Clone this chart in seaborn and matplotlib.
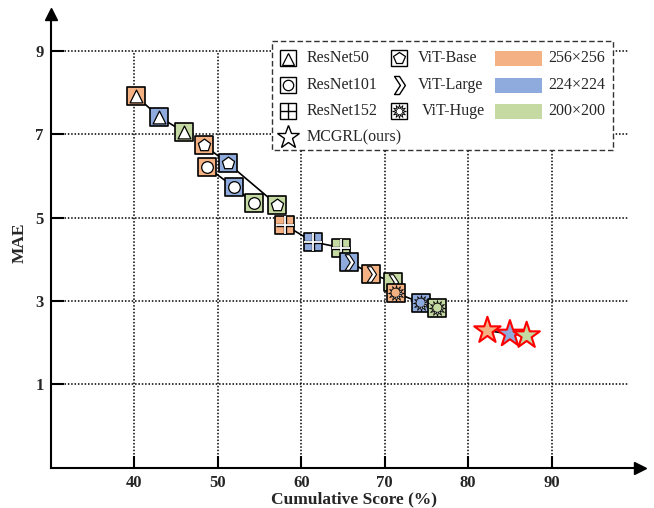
import matplotlib
matplotlib.use("Agg")
import matplotlib.pyplot as plt
import seaborn as sns
import pandas as pd
from matplotlib.path import Path
from matplotlib.patches import Rectangle

# ---------------- data ----------------
resolutions = ['256×256', '224×224', '200×200']
res_colors = ['#F4B183', '#8FAADC', '#C5D9A2']

resnet50_x = [40.2, 43.0, 46.0]
resnet50_y = [7.92, 7.42, 7.05]
resnet101_x = [48.7, 51.9, 54.3]
resnet101_y = [6.22, 5.74, 5.35]
resnet152_x = [58.0, 61.4, 64.8]
resnet152_y = [4.83, 4.42, 4.28]
vitbase_x = [48.3, 51.2, 57.1]
vitbase_y = [6.75, 6.31, 5.31]
vitlarge_x = [68.4, 65.7, 71.0]
vitlarge_y = [3.65, 3.94, 3.46]
vithuge_x = [71.3, 74.3, 76.3]
vithuge_y = [3.20, 2.96, 2.84]
mcgrl_x = [82.3, 85.0, 87.0]
mcgrl_y = [2.29, 2.21, 2.17]

x_ticks = [40, 50, 60, 70, 80, 90]
y_ticks = [1, 3, 5, 7, 9]

families = ['ResNet50', 'ResNet101', 'ResNet152', 'ViT-Base', 'ViT-Large', 'ViT-Huge', 'MCGRL(ours)']
fam_x = [resnet50_x, resnet101_x, resnet152_x, vitbase_x, vitlarge_x, vithuge_x, mcgrl_x]
fam_y = [resnet50_y, resnet101_y, resnet152_y, vitbase_y, vitlarge_y, vithuge_y, mcgrl_y]

rows = []
for f, xs, ys in zip(families, fam_x, fam_y):
    for r, xv, yv in zip(resolutions, xs, ys):
        rows.append(dict(family=f, res=r, score=xv, mae=yv))
df = pd.DataFrame(rows)
palette = dict(zip(resolutions, res_colors))

# ---------------- style ----------------
sns.set_style('white')
plt.rcParams['font.family'] = ['Liberation Serif', 'DejaVu Serif']

W, H = 654, 508
fig = plt.figure(figsize=(W / 100, H / 100), dpi=100)
L, R, B, T = 50.8, 640.0, 467.7, 14.0
ax = fig.add_axes([L / W, 1 - B / H, (R - L) / W, (B - T) / H])

ax.set_xlim(30, 100.58)
ax.set_ylim(-1, 9.89)

# grid (dotted, bounded)
dot = (0, (1, 1.2))
ax.vlines(x_ticks, -1, 9, colors='black', linestyles=[dot], linewidth=1.1, zorder=1)
ax.hlines(y_ticks, 30, 99.1, colors='black', linestyles=[dot], linewidth=1.1, zorder=1)

# chevron marker
chev = Path([(-0.55, 1.0), (0.0, 1.0), (0.65, 0.0), (0.0, -1.0), (-0.55, -1.0), (0.1, 0.0), (-0.55, 1.0)],
            [Path.MOVETO] + [Path.LINETO] * 5 + [Path.CLOSEPOLY])

SQ = 170  # square marker area

for f in families:
    sub = df[df.family == f]
    sns.lineplot(data=sub, x='score', y='mae', color='black', linewidth=1.2,
                 sort=True, estimator=None, ax=ax, zorder=2, legend=False)


def squares(sub, z):
    sns.scatterplot(data=sub, x='score', y='mae', hue='res', palette=palette, marker='s',
                    s=SQ, edgecolor='black', linewidth=1.2, ax=ax, zorder=z, legend=False)


z = 3
for f in ['ResNet50', 'ViT-Base', 'ResNet101', 'ResNet152', 'ViT-Large', 'ViT-Huge']:
    sub = df[df.family == f]
    squares(sub, z)
    kw = dict(data=sub, x='score', y='mae', ax=ax, legend=False)
    if f == 'ResNet50':
        sns.scatterplot(**kw, color='white', marker='^', s=85, edgecolor='black', linewidth=0.9, zorder=z + 0.5)
    elif f == 'ResNet101':
        sns.scatterplot(**kw, color='white', marker='o', s=70, edgecolor='black', linewidth=0.9, zorder=z + 0.5)
    elif f == 'ViT-Base':
        sns.scatterplot(**kw, color='white', marker='p', s=85, edgecolor='black', linewidth=0.9, zorder=z + 0.5)
    elif f == 'ResNet152':
        sns.scatterplot(**kw, color='black', marker='+', s=155, linewidth=2.4, zorder=z + 0.4)
        sns.scatterplot(**kw, color='white', marker='+', s=155, linewidth=1.3, zorder=z + 0.5)
    elif f == 'ViT-Large':
        sns.scatterplot(**kw, color='white', marker=chev, s=125, edgecolor='black', linewidth=0.8, zorder=z + 0.5)
    elif f == 'ViT-Huge':
        sns.scatterplot(**kw, color='white', marker=(12, 1, 0), s=130, edgecolor='black', linewidth=0.6, zorder=z + 0.5)
        sns.scatterplot(**kw, hue='res', palette=palette, marker='o', s=42, edgecolor='black',
                        linewidth=0.5, zorder=z + 0.6)
    z += 1

sub = df[df.family == 'MCGRL(ours)']
sns.scatterplot(data=sub, x='score', y='mae', hue='res', palette=palette, marker='*', s=400,
                edgecolor='red', linewidth=1.5, ax=ax, zorder=z, legend=False)

# axes styling
for s in ['top', 'right']:
    ax.spines[s].set_visible(False)
for s in ['left', 'bottom']:
    ax.spines[s].set_linewidth(1.5)
    ax.spines[s].set_color('black')
ax.plot(1, 0, marker='>', color='black', markersize=8, transform=ax.transAxes, clip_on=False, zorder=10)
ax.plot(0, 1, marker='^', color='black', markersize=8, transform=ax.transAxes, clip_on=False, zorder=10)

ax.set_xticks(x_ticks)
ax.set_yticks(y_ticks)
ax.set_xticklabels([str(t) for t in x_ticks], fontweight='bold', fontsize=12)
ax.set_yticklabels([str(t) for t in y_ticks], fontweight='bold', fontsize=12)
ax.tick_params(direction='in', length=9, width=1.5, color='black', pad=5,
               bottom=True, left=True, top=False, right=False)
ax.set_xlabel('Cumulative Score (%)', fontweight='bold', fontsize=12.5)
ax.set_ylabel('MAE', fontweight='bold', fontsize=12.5)
ax.xaxis.set_label_coords((354 - L) / (R - L), -(503 - B) / (B - T), transform=ax.transAxes)
ax.xaxis.label.set_va('baseline')
ax.yaxis.set_label_coords(-(L - 20) / (R - L), (B - 243) / (B - T), transform=ax.transAxes)
ax.yaxis.label.set_va('center')

# ---------------- legend (drawn in pixel coordinates) ----------------
lax = fig.add_axes([0, 0, 1, 1], zorder=20)
lax.set_xlim(0, W)
lax.set_ylim(H, 0)
lax.axis('off')
lax.add_patch(Rectangle((272, 41), 341, 109, facecolor='white', edgecolor='#333333',
                        linewidth=1.0, linestyle=(0, (4, 2))))

row_y = [58.3, 85.0, 111.0, 137.0]
c1_x, c1_t = 288, 307
c2_x, c2_t = 399, 418
fs = 11.5


def mk(x, y, **k):
    lax.plot([x], [y], linestyle='none', **k)


def box(x, y):
    mk(x, y, marker='s', ms=12, mfc='white', mec='black', mew=1.0)


# ResNet50
box(c1_x, row_y[0]); mk(c1_x, row_y[0] + 0.5, marker='^', ms=8, mfc='white', mec='black', mew=0.9)
# ResNet101
box(c1_x, row_y[1]); mk(c1_x, row_y[1], marker='o', ms=7.5, mfc='white', mec='black', mew=0.9)
# ResNet152
box(c1_x, row_y[2]); mk(c1_x, row_y[2], marker='+', ms=12, mec='black', mew=1.0)
# MCGRL
mk(c1_x, row_y[3], marker='*', ms=17, mfc='white', mec='black', mew=1.0)
# ViT-Base
box(c2_x, row_y[0]); mk(c2_x, row_y[0], marker='p', ms=8.5, mfc='white', mec='black', mew=0.9)
# ViT-Large
mk(c2_x, row_y[1], marker=chev, ms=13, mfc='white', mec='black', mew=1.0)
# ViT-Huge
box(c2_x, row_y[2]); mk(c2_x, row_y[2], marker=(12, 1, 0), ms=10, mfc='white', mec='black', mew=0.6)
mk(c2_x, row_y[2], marker='o', ms=4.5, mfc='white', mec='black', mew=0.5)

for lab, y in zip(['ResNet50', 'ResNet101', 'ResNet152', 'MCGRL(ours)'], row_y):
    lax.text(c1_t, y, lab, fontsize=fs, va='center', ha='left')
for lab, y, dx in zip(['ViT-Base', 'ViT-Large', 'ViT-Huge'], row_y[:3], [0, 0, 4]):
    lax.text(c2_t + dx, y, lab, fontsize=fs, va='center', ha='left')
for c, lab, y in zip(res_colors, resolutions, row_y[:3]):
    lax.add_patch(Rectangle((495, y - 7.5), 47, 15, facecolor=c, edgecolor='none'))
    lax.text(548, y, lab, fontsize=fs, va='center', ha='left')

fig.savefig('out.png', dpi=100)
